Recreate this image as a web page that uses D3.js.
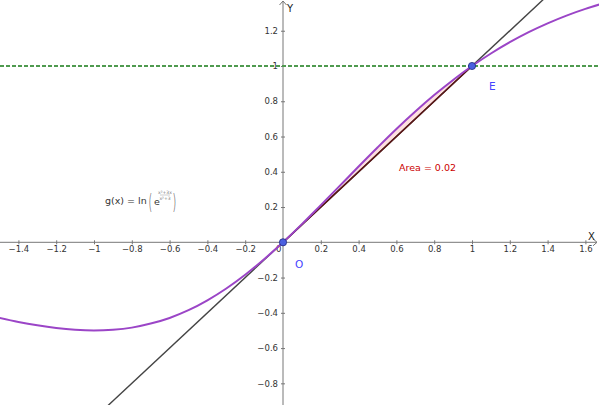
<!DOCTYPE html>
<html><head><meta charset="utf-8">
<script src="https://cdn.jsdelivr.net/npm/d3@7"></script>
<style>
html,body{margin:0;padding:0;background:#fff;}
svg{display:block;font-family:"DejaVu Sans",sans-serif;}
</style></head>
<body>
<svg id="c" width="599" height="405"></svg>
<script>
// Curve g(x)
const curveX = [-1.5,-1.4,-1.3,-1.2,-1.1,-1.0,-0.9,-0.8,-0.7,-0.6,-0.5,-0.4,-0.3,-0.2,-0.1,0,0.1,0.2,0.3,0.4,0.5,0.6,0.7,0.8,0.9,1.0,1.1,1.2,1.3,1.4,1.5,1.6,1.7];
const curveY = [-0.429,-0.452,-0.471,-0.486,-0.496,-0.5,-0.496,-0.484,-0.461,-0.429,-0.385,-0.329,-0.262,-0.184,-0.096,0,0.103,0.211,0.320,0.430,0.538,0.643,0.742,0.835,0.921,1.0,1.071,1.135,1.192,1.242,1.286,1.324,1.357];
// tangent line y = x
const lineX = [-1.5, 1.7];
const lineY = [-1.5, 1.7];
// horizontal dashed line
const hLineY = 1;
// points
const pointNames = ["O","E"];
const pointX = [0, 1];
const pointY = [0, 1];
// area bounds
const areaFrom = 0, areaTo = 1;
const areaLabel = "Area = 0.02";
// ticks
const xTicks = [-1.4,-1.2,-1,-0.8,-0.6,-0.4,-0.2,0.2,0.4,0.6,0.8,1,1.2,1.4,1.6];
const yTicks = [-0.8,-0.6,-0.4,-0.2,0.2,0.4,0.6,0.8,1,1.2];

const W = 599, H = 405;
const svg = d3.select("#c");
const x = d3.scaleLinear().domain([0,1]).range([283,472]);
const y = d3.scaleLinear().domain([0,1]).range([242.3,66]);
const fmt = v => d3.format("")(+v.toFixed(1)).replace("-","\u2212");

// area between curve and line
const pts = curveX.map((v,i)=>({x:v,y:curveY[i]}));
const areaPts = pts.filter(p=>p.x>=areaFrom-1e-9 && p.x<=areaTo+1e-9);
svg.append("path").datum(areaPts)
  .attr("d", d3.area().x(d=>x(d.x)).y0(d=>y(d.x)).y1(d=>y(d.y)).curve(d3.curveCatmullRom))
  .attr("fill","#ffe0e0").attr("stroke","none");

// axes
const gx = svg.append("g").attr("transform",`translate(0,${y(0)})`)
  .call(d3.axisBottom(x).tickValues(xTicks).tickSizeInner(2).tickSizeOuter(0).tickPadding(2).tickFormat(fmt));
gx.select(".domain").remove();
gx.selectAll(".tick line").attr("stroke","#777").attr("y1",-2);
gx.selectAll(".tick text").attr("fill","#333").style("font-size","8.5px").style("font-family","DejaVu Sans, sans-serif");
svg.append("line").attr("x1",0).attr("x2",597).attr("y1",y(0)).attr("y2",y(0)).attr("stroke","#777").attr("stroke-width",1);
svg.append("path").attr("d",`M${593},${y(0)-3.5} L597,${y(0)} L593,${y(0)+3.5}`).attr("fill","none").attr("stroke","#777");

const gy = svg.append("g").attr("transform",`translate(${x(0)},0)`)
  .call(d3.axisLeft(y).tickValues(yTicks).tickSizeInner(2).tickSizeOuter(0).tickPadding(3).tickFormat(fmt));
gy.select(".domain").remove();
gy.selectAll(".tick line").attr("stroke","#777").attr("x1",2);
gy.selectAll(".tick text").attr("fill","#333").style("font-size","8.5px").style("font-family","DejaVu Sans, sans-serif");
svg.append("line").attr("x1",x(0)).attr("x2",x(0)).attr("y1",1).attr("y2",H).attr("stroke","#777");
svg.append("path").attr("d",`M${x(0)-3.5},5 L${x(0)},1 L${x(0)+3.5},5`).attr("fill","none").attr("stroke","#777");

svg.append("text").attr("x",x(0)-7).attr("y",y(0)+10).attr("fill","#333").style("font-size","8.5px").text("0");
svg.append("text").attr("x",588).attr("y",240).attr("fill","#222").style("font-size","10px").text("X");
svg.append("text").attr("x",287).attr("y",12).attr("fill","#222").style("font-size","10px").text("Y");

// dashed horizontal line
svg.append("line").attr("x1",0).attr("x2",W).attr("y1",y(hLineY)).attr("y2",y(hLineY))
  .attr("stroke","#4f9a4f").attr("stroke-width",2).attr("stroke-dasharray","4,2");

// line y = x
const ln = d3.line().x((d,i)=>x(lineX[i])).y((d,i)=>y(lineY[i]));
svg.append("path").attr("d",ln(lineX)).attr("fill","none").attr("stroke","#444").attr("stroke-width",1.4);
svg.append("line").attr("x1",x(areaFrom)).attr("y1",y(areaFrom)).attr("x2",x(areaTo)).attr("y2",y(areaTo))
  .attr("stroke","#5a1515").attr("stroke-width",1.6);

// curve
svg.append("path").datum(pts)
  .attr("d", d3.line().x(d=>x(d.x)).y(d=>y(d.y)).curve(d3.curveCatmullRom))
  .attr("fill","none").attr("stroke","#9b45c7").attr("stroke-width",2);

// points
svg.selectAll(".pt").data(pointX).enter().append("circle")
  .attr("cx",(d,i)=>x(pointX[i])).attr("cy",(d,i)=>y(pointY[i])).attr("r",3.6)
  .attr("fill","#4a5fe0").attr("stroke","#1f2a80").attr("stroke-width",0.8);
const labOff = [[12,26],[17,24]];
svg.selectAll(".pl").data(pointNames).enter().append("text")
  .attr("x",(d,i)=>x(pointX[i])+labOff[i][0]).attr("y",(d,i)=>y(pointY[i])+labOff[i][1])
  .attr("fill","#4444ff").style("font-size","10.5px").text(d=>d);

// area label
svg.append("text").attr("x",399).attr("y",171).attr("fill","#cc0000").style("font-size","9.5px").text(areaLabel);

// formula
const f = svg.append("g").attr("fill","#333");
f.append("text").attr("x",105).attr("y",204).style("font-size","9.5px").text("g(x)");
f.append("text").attr("x",127).attr("y",204).style("font-size","9.5px").text("=");
f.append("text").attr("x",138).attr("y",204).style("font-size","9.5px").text("ln");
f.append("text").attr("transform","translate(148.5,209) scale(1,2.3)").style("font-size","9.5px").style("font-weight","300").text("(");
f.append("text").attr("x",154).attr("y",205).style("font-size","9.5px").text("e");
f.append("text").attr("x",165).attr("y",194).attr("text-anchor","middle").attr("fill","#777").style("font-size","4.5px").text("x\u00b2+3x");
f.append("line").attr("x1",160).attr("x2",170).attr("y1",195).attr("y2",195).attr("stroke","#999").attr("stroke-width",0.5);
f.append("text").attr("x",165).attr("y",200).attr("text-anchor","middle").attr("fill","#777").style("font-size","4.5px").text("x\u00b2+3");
f.append("text").attr("transform","translate(172.5,209) scale(1,2.3)").style("font-size","9.5px").style("font-weight","300").text(")");
</script>
</body></html>
